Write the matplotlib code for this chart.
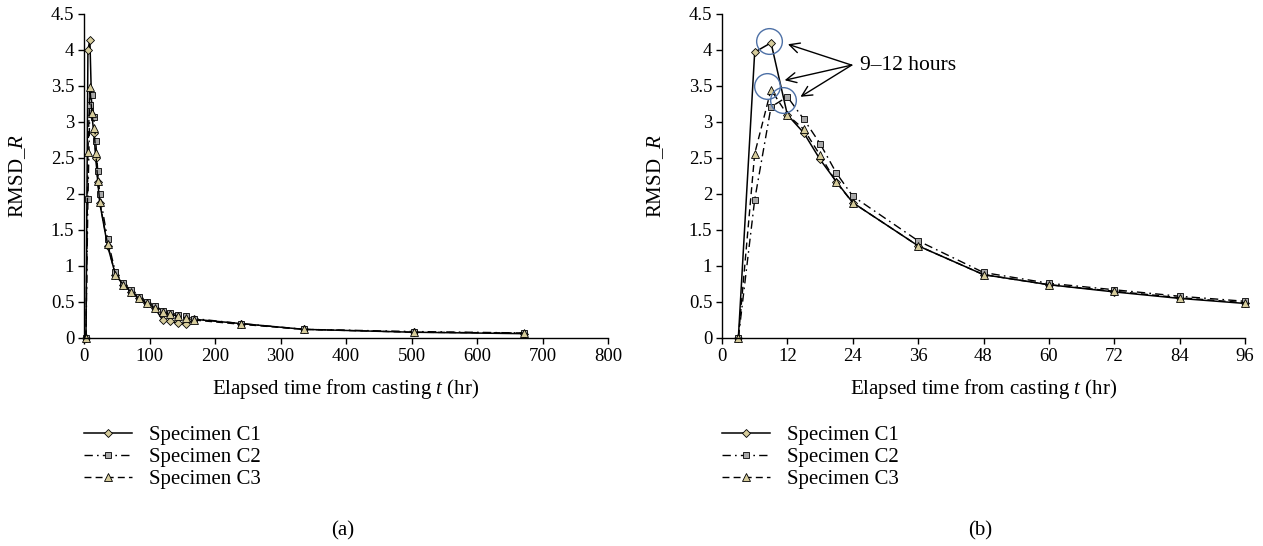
#! /usr/bin/env python3
# RMSD_R vs elapsed time from casting, full test (a) and first 96 hours (b)

import matplotlib

matplotlib.use("Agg")
import matplotlib.pyplot as plt
from matplotlib.lines import Line2D

plt.rcParams["font.family"] = ["Liberation Serif", "DejaVu Serif"]
plt.rcParams["mathtext.fontset"] = "custom"
plt.rcParams["mathtext.rm"] = "Liberation Serif"
plt.rcParams["mathtext.it"] = "Liberation Serif:italic"

# Panel (a): whole record
t_a = [3, 6, 9, 12, 15, 18, 21, 24, 36, 48, 60, 72, 84, 96, 108, 120, 132, 144,
       156, 168, 240, 336, 504, 672]
c1_a = [0, 4.0, 4.14, 3.1, 2.85, 2.5, 2.17, 1.88, 1.28, 0.88, 0.74, 0.64, 0.55,
        0.48, 0.42, 0.25, 0.23, 0.21, 0.19, 0.26, 0.2, 0.12, 0.08, 0.06]
c2_a = [0, 1.93, 3.23, 3.38, 3.07, 2.73, 2.32, 2.0, 1.37, 0.91, 0.76, 0.66, 0.57,
        0.5, 0.44, 0.38, 0.35, 0.32, 0.3, 0.27, 0.2, 0.12, 0.09, 0.07]
c3_a = [0, 2.58, 3.48, 3.13, 2.92, 2.57, 2.18, 1.89, 1.3, 0.88, 0.74, 0.64, 0.55,
        0.48, 0.42, 0.36, 0.33, 0.3, 0.28, 0.25, 0.19, 0.12, 0.08, 0.07]

# Panel (b): first 96 hours
t_b = [3, 6, 9, 12, 15, 18, 21, 24, 36, 48, 60, 72, 84, 96]
c1_b = [0, 3.97, 4.1, 3.1, 2.85, 2.48, 2.17, 1.88, 1.28, 0.88, 0.74, 0.64, 0.55, 0.48]
c2_b = [0, 1.92, 3.21, 3.35, 3.04, 2.7, 2.29, 1.97, 1.35, 0.91, 0.76, 0.67, 0.58, 0.51]
c3_b = [0, 2.56, 3.45, 3.1, 2.9, 2.54, 2.16, 1.88, 1.28, 0.88, 0.74, 0.65, 0.56, 0.49]

labels = ["Specimen C1", "Specimen C2", "Specimen C3"]
xticks_a = [0, 100, 200, 300, 400, 500, 600, 700, 800]
xticks_b = [0, 12, 24, 36, 48, 60, 72, 84, 96]
yticks = [0, 0.5, 1, 1.5, 2, 2.5, 3, 3.5, 4, 4.5]
ytick_labels = ["0", "0.5", "1", "1.5", "2", "2.5", "3", "3.5", "4", "4.5"]

# circled peaks and arrows of panel (b)
circle_x = [8.6, 8.2, 11.2]
circle_y = [4.12, 3.5, 3.31]
arrow_x = [12.1, 11.5, 14.4]
arrow_y = [4.08, 3.58, 3.35]

BEIGE = "#d6cc9c"
GREY = "#a8a8a8"
BLUE = "#4d70a6"
FS_TICK = 13.5
FS = 15

styles = [
    dict(color="black", lw=1.1, ls="-", marker="D", ms=4.2, mfc=BEIGE, mec="black", mew=0.6),
    dict(color="black", lw=1.0, ls=(0, (6, 3, 1.2, 3)), marker="s", ms=4.8, mfc=GREY,
         mec="black", mew=0.6),
    dict(color="black", lw=1.0, ls=(0, (5, 3)), marker="^", ms=5.3, mfc=BEIGE, mec="black",
         mew=0.6),
]

fig = plt.figure(figsize=(12.63, 5.46), dpi=100)
ax_a = fig.add_axes([84 / 1263, 1 - 338 / 546, (608 - 84) / 1263, 324 / 546])
ax_b = fig.add_axes([722 / 1263, 1 - 338 / 546, (1245 - 722) / 1263, 324 / 546])


def style_axes(ax, xticks, xmax):
    ax.set_xlim(0, xmax)
    ax.set_ylim(0, 4.5)
    ax.set_xticks(xticks)
    ax.set_xticklabels([str(v) for v in xticks])
    ax.set_yticks(yticks)
    ax.set_yticklabels(ytick_labels)
    ax.spines["top"].set_visible(False)
    ax.spines["right"].set_visible(False)
    for side in ("left", "bottom"):
        ax.spines[side].set_linewidth(1.0)
    ax.tick_params(direction="out", length=4, width=1.0, labelsize=FS_TICK, pad=3)
    ax.set_xlabel("Elapsed time from casting $t$ (hr)", fontsize=FS, labelpad=9)
    ax.set_ylabel("RMSD_$R$", fontsize=FS, labelpad=16)
    handles = [Line2D([], [], **s) for s in styles]
    ax.legend(handles, labels, loc="upper left", bbox_to_anchor=(0, -0.27),
              frameon=False, fontsize=FS, handlelength=2.3, handletextpad=0.8,
              labelspacing=0.12, borderpad=0, borderaxespad=0, numpoints=1)


for ys, s in zip([c1_a, c2_a, c3_a], styles):
    ax_a.plot(t_a, ys, clip_on=False, **s)
for ys, s in zip([c1_b, c2_b, c3_b], styles):
    ax_b.plot(t_b, ys, clip_on=False, **s)

style_axes(ax_a, xticks_a, 800)
style_axes(ax_b, xticks_b, 96)

ax_b.plot(circle_x, circle_y, ls="none", marker="o", ms=18.5, mfc="none", mec=BLUE, mew=1.0)
for hx, hy in zip(arrow_x, arrow_y):
    ax_b.annotate("", xy=(hx, hy), xytext=(23.8, 3.79),
                  arrowprops=dict(arrowstyle="->", lw=1.0, color="black",
                                  mutation_scale=18, shrinkA=0, shrinkB=0))
ax_b.text(25.3, 3.79, "9\u201312 hours", fontsize=FS + 0.5, va="center", ha="left")

fig.text(343 / 1263, 1 - 531 / 546, "(a)", fontsize=FS, ha="center", va="center")
fig.text(980 / 1263, 1 - 531 / 546, "(b)", fontsize=FS, ha="center", va="center")

fig.savefig("out.png", dpi=100)
